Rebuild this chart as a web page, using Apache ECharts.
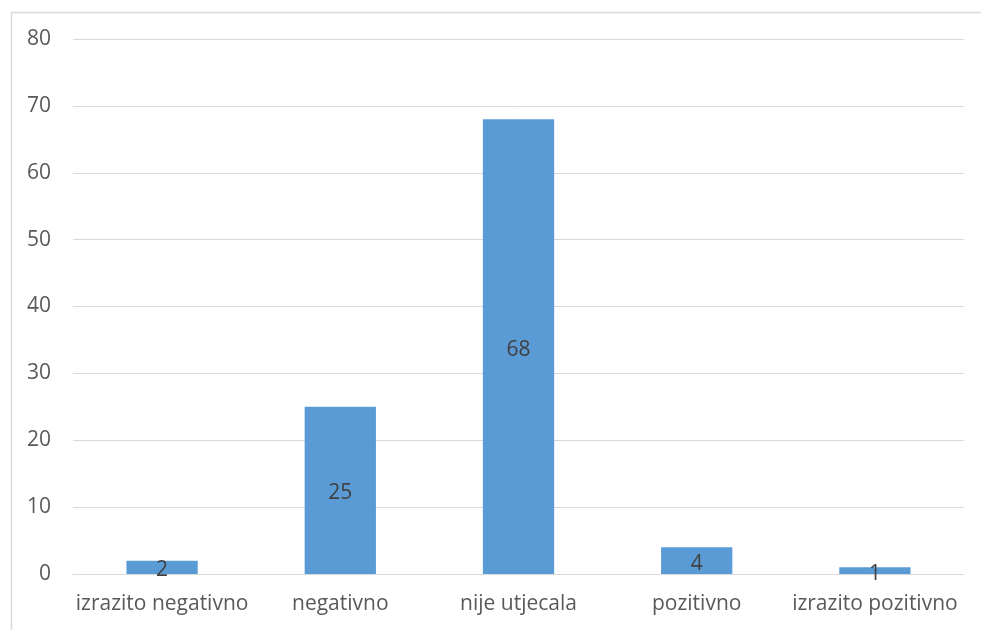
<!DOCTYPE html>
<html><head><meta charset="utf-8">
<script src="https://cdn.jsdelivr.net/npm/echarts@6/dist/echarts.min.js"></script>
<style>html,body{margin:0;padding:0;background:#fff}#c{width:981px;height:630px}</style>
</head><body><div id="c"></div>
<script>
const categories = ['izrazito negativno', 'negativno', 'nije utjecala', 'pozitivno', 'izrazito pozitivno'];
const values = [2, 25, 68, 4, 1];
const yTicks = [0, 10, 20, 30, 40, 50, 60, 70, 80];

const chart = echarts.init(document.getElementById('c'), null, {renderer: 'canvas'});
chart.setOption({
  animation: false,
  backgroundColor: '#fff',
  graphic: [{
    type: 'rect', left: 9, top: 10, z: -1,
    shape: {width: 1000, height: 700},
    style: {fill: 'none', stroke: '#d9d9d9', lineWidth: 1.5}
  }],
  grid: {left: 73, right: 17, top: 39, bottom: 56},
  xAxis: {
    type: 'category', data: categories,
    axisLine: {lineStyle: {color: '#d9d9d9', width: 1}},
    axisTick: {show: false},
    axisLabel: {color: '#595959', fontSize: 21, fontFamily: 'Open Sans, sans-serif', margin: 20, interval: 0}
  },
  yAxis: {
    type: 'value', min: yTicks[0], max: yTicks[yTicks.length - 1], interval: 10,
    axisLine: {show: false}, axisTick: {show: false},
    splitLine: {lineStyle: {color: '#d9d9d9', width: 1}},
    axisLabel: {color: '#595959', fontSize: 21, fontFamily: 'Open Sans, sans-serif', margin: 22}
  },
  series: [{
    type: 'bar', data: values, barWidth: '40%',
    itemStyle: {color: '#5B9BD5'},
    label: {show: true, position: 'inside', offset: [0, 3], color: '#404040', fontSize: 21, fontFamily: 'Open Sans, sans-serif'}
  }]
});
</script></body></html>
